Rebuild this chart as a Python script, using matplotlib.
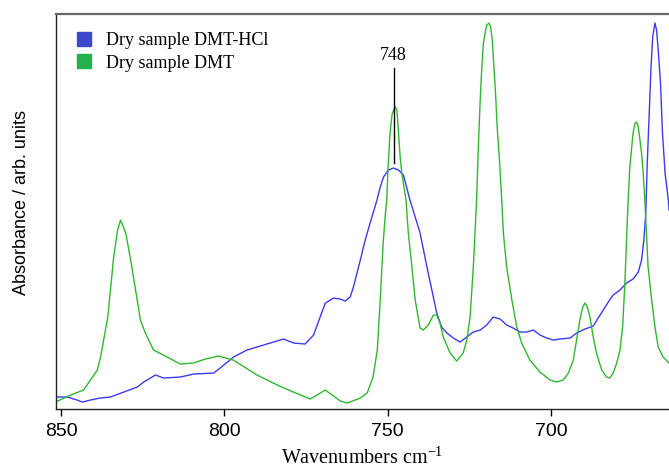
import matplotlib
matplotlib.use("Agg")
import matplotlib.pyplot as plt
from matplotlib.lines import Line2D

# DMT (green) spectrum
wn_dmt = [851.7, 847.1, 843.1, 838.9, 837.9, 835.7, 833.9, 832.7, 831.8, 830.2,
          828.7, 827.2, 825.7, 824.2, 821.7, 818.7, 813.5, 809.5, 805.8, 801.9,
          797.3, 790.0, 783.8, 778.9, 773.7, 769.1, 764.5, 762.4, 758.4, 756.3,
          754.5, 753.2, 752.3, 751.4, 750.8, 750.3, 749.9, 749.3, 748.7, 748.2,
          747.7, 747.2, 746.7, 746.2, 745.7, 744.4, 743.7, 742.6, 741.6, 740.1,
          739.1, 737.6, 736.0, 735.0, 734.0, 733.0, 730.9, 728.9, 726.9, 725.8,
          724.8, 723.8, 722.8, 722.3, 721.7, 721.2, 720.7, 720.2, 719.7, 719.0,
          718.5, 718.0, 717.5, 717.0, 716.5, 715.8, 715.1, 714.6, 713.6, 712.0,
          710.5, 709.0, 706.5, 703.4, 700.3, 698.3, 696.3, 694.7, 693.2, 692.2,
          691.2, 690.3, 689.6, 688.9, 688.1, 687.1, 686.1, 684.5, 683.0, 682.0,
          681.0, 679.9, 678.9, 678.1, 677.4, 676.9, 676.4, 675.9, 675.4, 674.9,
          674.3, 673.8, 673.3, 672.8, 672.3, 671.8, 671.3, 670.8, 670.3, 669.2,
          668.2, 667.2, 665.7, 663.9]
abs_dmt = [0.07, 0.14, 0.19, 0.39, 0.52, 0.92, 1.52, 1.79, 1.89, 1.76,
           1.49, 1.19, 0.89, 0.76, 0.59, 0.54, 0.45, 0.46, 0.50, 0.53,
           0.49, 0.34, 0.24, 0.17, 0.10, 0.19, 0.08, 0.06, 0.11, 0.16,
           0.32, 0.59, 1.09, 1.66, 1.92, 2.09, 2.42, 2.76, 2.94, 2.99,
           3.02, 2.99, 2.76, 2.52, 2.36, 2.09, 1.76, 1.42, 1.09, 0.81,
           0.79, 0.84, 0.94, 0.94, 0.86, 0.72, 0.56, 0.48, 0.56, 0.69,
           0.92, 1.42, 2.09, 2.59, 3.09, 3.42, 3.66, 3.76, 3.84, 3.86,
           3.82, 3.69, 3.42, 3.16, 2.82, 2.49, 2.09, 1.76, 1.42, 1.09,
           0.82, 0.66, 0.49, 0.37, 0.29, 0.27, 0.29, 0.36, 0.49, 0.69,
           0.89, 1.02, 1.06, 1.02, 0.92, 0.72, 0.56, 0.39, 0.32, 0.31,
           0.36, 0.46, 0.59, 0.82, 1.26, 1.69, 2.09, 2.42, 2.59, 2.76,
           2.86, 2.87, 2.82, 2.69, 2.56, 2.36, 2.09, 1.76, 1.42, 1.09,
           0.82, 0.62, 0.52, 0.46]

# DMT-HCl (blue) spectrum
wn_hcl = [851.7, 848.1, 845.1, 843.5, 841.0, 838.0, 834.9, 830.8, 826.7, 824.7,
          821.1, 818.6, 813.5, 809.4, 803.3, 801.3, 797.2, 793.1, 788.0, 781.9,
          778.8, 775.3, 772.7, 770.7, 769.1, 766.6, 764.6, 763.0, 761.5, 760.5,
          758.4, 756.9, 755.4, 753.3, 752.3, 751.3, 749.8, 748.3, 746.7, 745.2,
          743.2, 741.6, 740.1, 738.0, 736.5, 735.0, 733.5, 731.9, 729.9, 727.9,
          725.8, 723.8, 721.7, 719.7, 717.7, 715.6, 713.6, 711.6, 709.5, 707.5,
          705.4, 703.4, 701.3, 699.3, 697.3, 694.2, 692.2, 689.6, 687.1, 685.6,
          684.0, 682.5, 681.0, 678.9, 676.9, 674.9, 673.3, 672.3, 671.6, 671.0,
          670.6, 670.0, 669.4, 668.9, 668.2, 667.7, 667.2, 666.5, 665.9, 665.1,
          664.1, 663.9]
abs_hcl = [0.12, 0.12, 0.09, 0.07, 0.09, 0.11, 0.12, 0.17, 0.22, 0.27,
           0.34, 0.31, 0.32, 0.35, 0.36, 0.41, 0.52, 0.59, 0.64, 0.70,
           0.66, 0.65, 0.74, 0.92, 1.06, 1.11, 1.10, 1.08, 1.12, 1.22,
           1.49, 1.69, 1.86, 2.09, 2.22, 2.32, 2.39, 2.41, 2.39, 2.34,
           2.09, 1.92, 1.76, 1.42, 1.19, 0.96, 0.82, 0.76, 0.71, 0.67,
           0.72, 0.77, 0.79, 0.84, 0.92, 0.90, 0.84, 0.81, 0.77, 0.77,
           0.79, 0.74, 0.71, 0.69, 0.70, 0.71, 0.76, 0.80, 0.83, 0.91,
           0.99, 1.07, 1.14, 1.19, 1.26, 1.30, 1.37, 1.49, 1.69, 1.96,
           2.42, 2.92, 3.42, 3.72, 3.86, 3.79, 3.59, 3.26, 2.76, 2.36,
           2.09, 1.99]

labels = ["Dry sample DMT-HCl", "Dry sample DMT"]
line_colors = ["#3b3bee", "#2eb82e"]
legend_colors = ["#3f48cc", "#22b14c"]
xticks = [850, 800, 750, 700]
peak_wn = 748
peak_label = "748"

serif = ["Liberation Serif", "DejaVu Serif"]
sans = ["Liberation Sans", "DejaVu Sans"]

fig = plt.figure(figsize=(6.69, 4.68), dpi=100)
ax = fig.add_axes([0.083, 0.126, 0.917, 0.844])

ax.plot(wn_hcl, abs_hcl, color=line_colors[0], lw=1.0)
ax.plot(wn_dmt, abs_dmt, color=line_colors[1], lw=1.0)

ax.set_xlim(851.7, 663.9)
ax.set_ylim(0, 3.95)
ax.set_xticks(xticks)
ax.set_xticklabels([str(t) for t in xticks], fontfamily=sans, fontsize=14)
ax.set_yticks([])
ax.tick_params(axis="x", direction="out", length=5, width=1, pad=5)

ax.spines["right"].set_visible(False)
ax.spines["top"].set_color("#666666")
ax.spines["top"].set_linewidth(1.6)
for s in ["left", "bottom"]:
    ax.spines[s].set_color("#222222")
    ax.spines[s].set_linewidth(1.0)

ax.set_xlabel("Wavenumbers cm$^{\\mathregular{-1}}$", fontfamily=serif,
              fontsize=14.5, labelpad=5)
ax.set_ylabel("Absorbance / arb. units", fontfamily=sans, fontsize=13)
ax.yaxis.set_label_coords(-0.041, 0.524)

# peak marker
ax.plot([peak_wn, peak_wn], [2.46, 3.41], color="black", lw=1.0)
ax.text(peak_wn + 0.3, 3.45, peak_label, fontfamily=serif, fontsize=13,
        ha="center", va="bottom")

handles = [Line2D([], [], marker="s", linestyle="none", color=c,
                  markersize=10) for c in legend_colors]
ax.legend(handles, labels, loc="upper left", bbox_to_anchor=(0.002, 0.995),
          frameon=False, prop={"family": serif, "size": 13},
          handletextpad=0.6, labelspacing=0.3, handlelength=1.2)

fig.savefig("out.png", dpi=100)
